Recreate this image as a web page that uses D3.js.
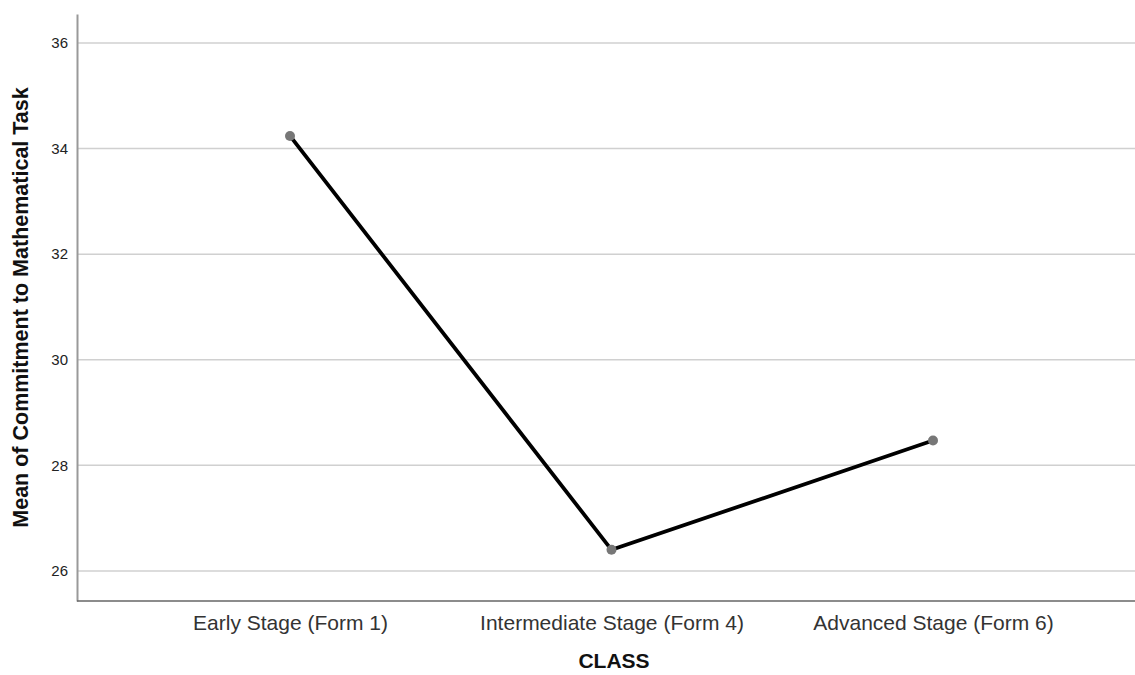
<!DOCTYPE html>
<html>
<head>
<meta charset="utf-8">
<script src="https://cdn.jsdelivr.net/npm/d3@7"></script>
<style>
  html, body { margin: 0; padding: 0; background: #fff; }
  svg { display: block; }
</style>
</head>
<body>
<script>
const categories = ["Early Stage (Form 1)", "Intermediate Stage (Form 4)", "Advanced Stage (Form 6)"];
const meanValues = [34.24, 26.40, 28.47];
const yTicks = [26, 28, 30, 32, 34, 36];
const xTitle = "CLASS";
const yTitle = "Mean of Commitment to Mathematical Task";

const W = 1135, H = 675;
const mLeft = 77, mRight = 1135, mTop = 14, mBottom = 601;
const FONT = "Liberation Sans, Arial, sans-serif";

const svg = d3.select("body").append("svg").attr("width", W).attr("height", H);

const x = d3.scalePoint().domain(categories).range([290, 933]);
const y = d3.scaleLinear().domain([25.43, 36.55]).range([mBottom, mTop]);

// gridlines
svg.append("g").selectAll("line").data(yTicks).join("line")
  .attr("x1", mLeft).attr("x2", mRight)
  .attr("y1", d => y(d)).attr("y2", d => y(d))
  .attr("stroke", "#d0d0d0").attr("stroke-width", 1.5);

// y axis
const yAxis = svg.append("g").attr("transform", `translate(${mLeft},0)`)
  .call(d3.axisLeft(y).tickValues(yTicks).tickSize(0).tickPadding(9).tickFormat(d3.format("d")));
yAxis.select(".domain").attr("stroke", "#999").attr("stroke-width", 2);
yAxis.selectAll("text").attr("font-family", FONT)
  .attr("font-size", 15).attr("fill", "#222");

// x axis
const xAxis = svg.append("g").attr("transform", `translate(0,${mBottom})`)
  .call(d3.axisBottom(x).tickSize(0).tickPadding(14));
xAxis.select(".domain").attr("d", `M${mLeft},0H${mRight}`).attr("stroke", "#666").attr("stroke-width", 1.5);
xAxis.selectAll("text").attr("font-family", FONT)
  .attr("font-size", 21).attr("fill", "#333");

// line
const data = categories.map((c, i) => ({c, v: meanValues[i]}));
svg.append("path").datum(data)
  .attr("d", d3.line().x(d => x(d.c)).y(d => y(d.v)))
  .attr("fill", "none").attr("stroke", "#000").attr("stroke-width", 3.8);

svg.append("g").selectAll("circle").data(data).join("circle")
  .attr("cx", d => x(d.c)).attr("cy", d => y(d.v)).attr("r", 5)
  .attr("fill", "#777");

// titles
svg.append("text").attr("x", 614).attr("y", 668)
  .attr("text-anchor", "middle")
  .attr("font-family", FONT)
  .attr("font-size", 21).attr("font-weight", "bold").attr("fill", "#111")
  .text(xTitle);
svg.append("text")
  .attr("transform", `translate(28,${(mTop + mBottom) / 2}) rotate(-90)`)
  .attr("text-anchor", "middle")
  .attr("font-family", FONT)
  .attr("font-size", 21.5).attr("font-weight", "bold").attr("fill", "#111")
  .text(yTitle);
</script>
</body>
</html>
